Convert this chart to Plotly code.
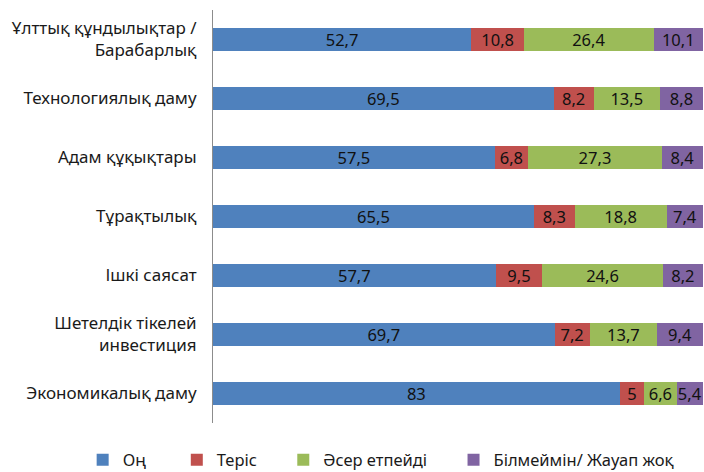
import plotly.graph_objects as go

categories = [
    "Ұлттық құндылықтар /<br>Барабарлық",
    "Технологиялық даму",
    "Адам құқықтары",
    "Тұрақтылық",
    "Ішкі саясат",
    "Шетелдік тікелей<br>инвестиция",
    "Экономикалық даму",
]

series_names = ["Оң", "Теріс", "Әсер етпейді", "Білмеймін/ Жауап жоқ"]
positive = [52.7, 69.5, 57.5, 65.5, 57.7, 69.7, 83]
negative = [10.8, 8.2, 6.8, 8.3, 9.5, 7.2, 5]
no_effect = [26.4, 13.5, 27.3, 18.8, 24.6, 13.7, 6.6]
dont_know = [10.1, 8.8, 8.4, 7.4, 8.2, 9.4, 5.4]

colors = ["#4F81BD", "#C0504D", "#9BBB59", "#8064A2"]
FONT = "Noto Sans"

# extra blank room after each legend entry
NBSP = "\u00a0"
legend_pad = [6, 5, 5, 0]


def fmt(v):
    s = f"{v:g}"
    return s.replace(".", ",")


fig = go.Figure()
for name, vals, col, pad in zip(series_names, [positive, negative, no_effect, dont_know],
                                colors, legend_pad):
    fig.add_trace(go.Bar(
        y=categories,
        x=vals,
        name=name + NBSP * pad,
        orientation="h",
        marker=dict(color=col, line=dict(width=0)),
        text=[fmt(v) for v in vals],
        textposition="inside",
        insidetextanchor="middle",
        textangle=0,
        textfont=dict(family=FONT, size=16.5, color="#111111"),
        constraintext="none",
        hoverinfo="skip",
    ))

fig.update_layout(
    barmode="stack",
    bargap=0.61,
    width=704,
    height=472,
    margin=dict(l=213, r=1, t=10, b=49, autoexpand=False),
    paper_bgcolor="white",
    plot_bgcolor="white",
    font=dict(family=FONT, size=16.5, color="#1a1a1a"),
    legend=dict(
        orientation="h",
        xref="paper", yref="paper",
        x=-0.266, xanchor="left",
        y=-0.047, yanchor="top",
        font=dict(family=FONT, size=16.5, color="#1a1a1a"),
        traceorder="normal",
        itemwidth=30,
    ),
    showlegend=True,
)
fig.update_xaxes(range=[0, 100], showticklabels=False, showgrid=False,
                 zeroline=False, showline=False, ticks="")
fig.update_yaxes(autorange="reversed", showline=True, linecolor="#8c8c8c",
                 linewidth=1, showgrid=False, ticks="", ticklabelstandoff=12,
                 tickfont=dict(family=FONT, size=17, color="#1a1a1a"))

fig.write_html("out.html")
